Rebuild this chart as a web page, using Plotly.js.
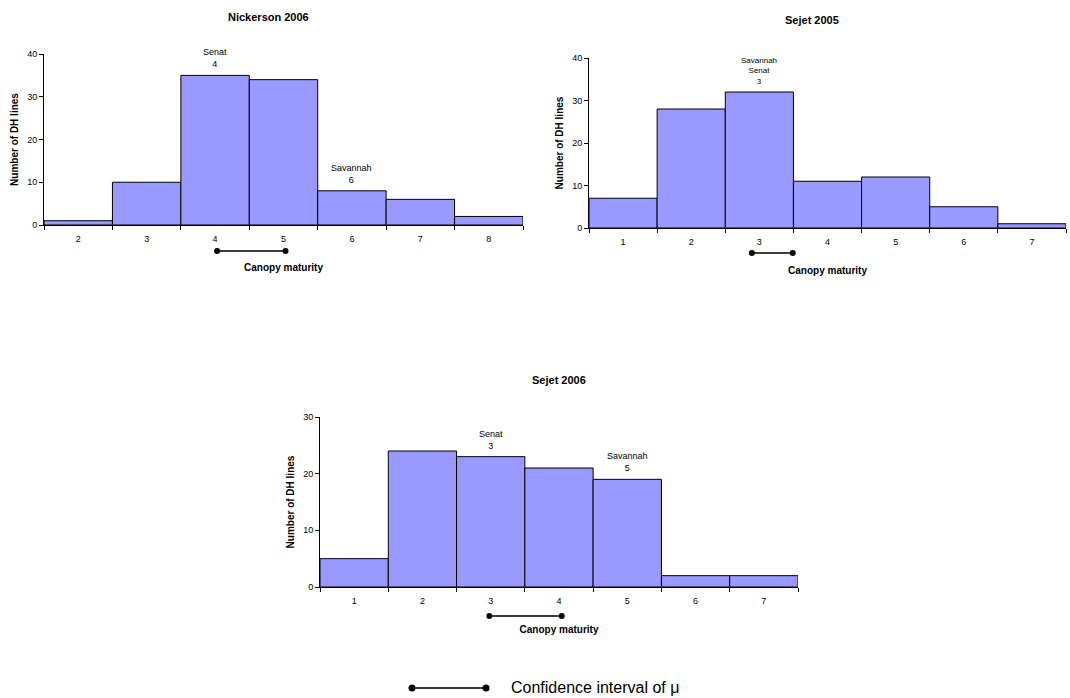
<!DOCTYPE html>
<html>
<head>
<meta charset="utf-8">
<script src="https://cdn.plot.ly/plotly-3.0.1.min.js"></script>
<style>html,body{margin:0;padding:0;background:#fff;}#chart{width:1070px;height:698px;}</style>
</head>
<body>
<div id="chart"></div>
<script>
// ---- Data ----
const nickCats = [2, 3, 4, 5, 6, 7, 8];
const nickCounts = [1, 10, 35, 34, 8, 6, 2];
const s05Cats = [1, 2, 3, 4, 5, 6, 7];
const s05Counts = [7, 28, 32, 11, 12, 5, 1];
const s06Cats = [1, 2, 3, 4, 5, 6, 7];
const s06Counts = [5, 24, 23, 21, 19, 2, 2];
// confidence intervals of mu (canopy maturity)
const nickCI = [4.03, 5.03];
const s05CI = [2.89, 3.49];
const s06CI = [2.98, 4.04];
// cultivar labels: [x, count, text]
const nickLabels = [[4, 35, 'Senat<br>4'], [6, 8, 'Savannah<br>6']];
const s05Labels = [[3, 32, 'Savannah<br>Senat<br>3']];
const s06Labels = [[3, 23, 'Senat<br>3'], [5, 19, 'Savannah<br>5']];
const titles = ['Nickerson 2006', 'Sejet 2005', 'Sejet 2006'];

const FONT = 'Arial, "Liberation Sans", sans-serif';
const barColor = '#9999FF';

function bar(x, y, xa, ya) {
  return {type: 'bar', x: x, y: y, xaxis: xa, yaxis: ya, width: 1,
    marker: {color: barColor, line: {color: '#000', width: 1}},
    hoverinfo: 'x+y', showlegend: false};
}
function ci(x, xa, ya) {
  return {type: 'scatter', mode: 'lines+markers', x: x, y: [0, 0], xaxis: xa, yaxis: ya,
    line: {color: '#000', width: 1.3}, marker: {color: '#000', size: 6},
    cliponaxis: false, showlegend: false, hoverinfo: 'skip'};
}

const data = [
  bar(nickCats, nickCounts, 'x', 'y'),
  bar(s05Cats, s05Counts, 'x2', 'y2'),
  bar(s06Cats, s06Counts, 'x3', 'y3'),
  ci(nickCI, 'x', 'y4'),
  ci(s05CI, 'x2', 'y5'),
  ci(s06CI, 'x3', 'y6'),
  {type: 'scatter', mode: 'lines+markers', x: [0, 1], y: [0, 0], xaxis: 'x7', yaxis: 'y7',
   line: {color: '#000', width: 1.5}, marker: {color: '#000', size: 7},
   cliponaxis: false, showlegend: false, hoverinfo: 'skip'}
];

function xax(dom, range, cats, anchor) {
  return {domain: dom, range: range, anchor: anchor, showgrid: false, zeroline: false,
    showline: true, linecolor: '#000', linewidth: 1,
    tickmode: 'array', tickvals: cats, ticktext: cats.map(String),
    ticks: '', ticklabelstandoff: 5,
    minor: {ticks: 'outside', tick0: range[0], dtick: 1, ticklen: 4, tickcolor: '#000', showgrid: false},
    tickfont: {family: FONT, size: 9, color: '#000'},
    title: {text: '<b>Canopy maturity</b>', font: {family: FONT, size: 10, color: '#000'}, standoff: 21}};
}
function yax(dom, range, anchor) {
  return {domain: dom, range: range, anchor: anchor, showgrid: false, zeroline: false,
    showline: true, linecolor: '#000', linewidth: 1, dtick: 10,
    ticks: 'outside', ticklen: 4, tickcolor: '#000',
    tickfont: {family: FONT, size: 9, color: '#000'},
    title: {text: '<b>Number of DH lines</b>', font: {family: FONT, size: 10, color: '#000'}, standoff: 6}};
}
function hidden(dom, range, anchor) {
  return {domain: dom, range: range, anchor: anchor, visible: false, fixedrange: true};
}

const W = 1070, H = 698;
const px = v => v / W, py = v => 1 - v / H;

const annotations = [];
function addLabels(list, xa, ya, size) {
  list.forEach(l => annotations.push({x: l[0], y: l[1], xref: xa, yref: ya, text: l[2],
    showarrow: false, yanchor: 'bottom', yshift: 4,
    font: {family: FONT, size: size, color: '#000'}}));
}
addLabels(nickLabels, 'x', 'y', 9);
addLabels(s05Labels, 'x2', 'y2', 8);
addLabels(s06Labels, 'x3', 'y3', 9);
[[titles[0], 268, 17], [titles[1], 812, 20], [titles[2], 559, 380]].forEach(t =>
  annotations.push({x: px(t[1]), y: py(t[2]), xref: 'paper', yref: 'paper', text: '<b>' + t[0] + '</b>',
    showarrow: false, xanchor: 'center', yanchor: 'middle',
    font: {family: FONT, size: 11, color: '#000'}}));
annotations.push({x: px(509), y: py(687), xref: 'paper', yref: 'paper', text: 'Confidence interval of μ',
  showarrow: false, xanchor: 'left', yanchor: 'middle', font: {family: FONT, size: 16, color: '#000'}});

const layout = {
  width: W, height: H, margin: {l: 0, r: 0, t: 0, b: 0},
  paper_bgcolor: '#fff', plot_bgcolor: 'rgba(0,0,0,0)', showlegend: false,
  bargap: 0,
  xaxis: xax([px(44), px(523)], [1.5, 8.5], nickCats, 'y'),
  yaxis: yax([py(225), py(54)], [0, 40], 'x'),
  xaxis2: xax([px(589), px(1066)], [0.5, 7.5], s05Cats, 'y2'),
  yaxis2: yax([py(228), py(58)], [0, 40], 'x2'),
  xaxis3: xax([px(320), px(798)], [0.5, 7.5], s06Cats, 'y3'),
  yaxis3: yax([py(587), py(417)], [0, 30], 'x3'),
  yaxis4: hidden([py(258), py(244)], [-1, 1], 'x'),
  yaxis5: hidden([py(260), py(246)], [-1, 1], 'x2'),
  yaxis6: hidden([py(623), py(609)], [-1, 1], 'x3'),
  xaxis7: hidden([px(412), px(486)], [0, 1], 'y7'),
  yaxis7: hidden([py(695), py(681)], [-1, 1], 'x7'),
  annotations: annotations
};

Plotly.newPlot('chart', data, layout, {displayModeBar: false, staticPlot: true});
</script>
</body>
</html>
